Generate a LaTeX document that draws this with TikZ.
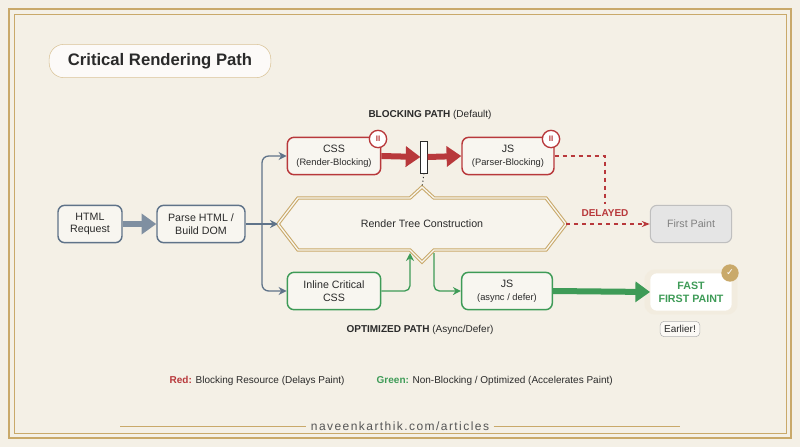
\documentclass[tikz,border=0pt]{standalone}
\usepackage{fontspec}
\setmainfont{Liberation Sans}
\newfontfamily\symf{DejaVu Sans}
\usetikzlibrary{arrows.meta,calc}
\definecolor{bg}{HTML}{F4F0E6}
\definecolor{gold}{HTML}{C9A96A}
\definecolor{blu}{HTML}{5F7389}
\definecolor{rd}{HTML}{B8383B}
\definecolor{gr}{HTML}{3E9B57}
\definecolor{txt}{HTML}{2A2A2A}
\tikzset{
 box/.style={draw=#1,line width=1.1pt,rounded corners=5pt,fill=white!40!bg,align=center,font=\fontsize{8}{9.5}\selectfont,text=txt},
 conn/.style={draw=#1,line width=1pt,-{Stealth[length=6pt,width=6pt]}},
 fat/.style={draw=#1,line width=4.5pt,-{Triangle[length=11pt,width=15pt]}},
 sm/.style={font=\fontsize{7.5}{9}\selectfont}
}
\begin{document}
\begin{tikzpicture}[x=0.75pt,y=-0.75pt]
\fill[bg] (0,0) rectangle (800,447);
\useasboundingbox (0,0) rectangle (800,447);
\draw[gold,line width=0.8pt] (9,9) rectangle (791,438);
\draw[gold,line width=0.5pt] (14,14) rectangle (786,433);
% title
\node[draw=gold!70,fill=white!70!bg,rounded corners=11pt,minimum height=25,inner xsep=14pt,font=\fontsize{12.5}{14}\selectfont\bfseries,text=txt] (title) at (160,61) {Critical Rendering Path};
\node[font=\fontsize{7.5}{9}\selectfont,text=txt] (bh) at (430,115) {\textbf{BLOCKING PATH} (Default)};
% nodes
\node[box=blu,minimum width=48,minimum height=28] (html) at (90,224) {HTML\\Request};
\node[box=blu,minimum width=66,minimum height=28] (parse) at (201,224) {Parse HTML /\\Build DOM};
\node[box=rd,minimum width=70,minimum height=28] (css) at (334,156) {CSS\\{\fontsize{7}{8.5}\selectfont(Render-Blocking)}};
\node[box=rd,minimum width=69,minimum height=28] (js) at (508,156) {JS\\{\fontsize{7}{8.5}\selectfont(Parser-Blocking)}};
\node[draw=txt,fill=white,minimum width=5,minimum height=24,inner sep=0pt] (bar) at (424,157) {};
\node[box=gr,minimum width=70,minimum height=28] (inl) at (334,291) {Inline Critical\\CSS};
\node[box=gr,minimum width=68,minimum height=28] (jsa) at (507,291) {JS\\{\fontsize{7}{8.5}\selectfont(async / defer)}};
\node[draw=gray!50,fill=gray!20,rounded corners=5pt,line width=0.8pt,minimum width=61,minimum height=28,text=gray,font=\fontsize{8}{9.5}\selectfont] (fp) at (691,224) {First Paint};
\node[fill=gold!25,rounded corners=8pt,minimum width=70,minimum height=34,opacity=0.5] at (691,292) {};
\node[fill=white,rounded corners=5pt,minimum width=61,minimum height=28,align=center,text=gr,font=\fontsize{8}{9.5}\selectfont\bfseries] (ffp) at (691,292) {FAST\\FIRST PAINT};
\node[circle,fill=gold,minimum size=13,inner sep=0pt,text=white,font=\symf\fontsize{7}{7}\selectfont\bfseries] (chk) at (730,273) {✓};
\node[draw=gray!60,fill=white!60!bg,rounded corners=3pt,sm,text=txt,inner sep=3pt] (earl) at (680,329) {Earlier!};
% pause badges
\foreach \n/\x in {p1/378,p2/551}{
 \node[circle,draw=rd,fill=white,line width=1pt,minimum size=13,inner sep=0pt,text=rd,font=\fontsize{6}{6}\selectfont\bfseries] (\n) at (\x,139) {II};}
% hexagon
\draw[gold,line width=2.6pt,fill=white!30!bg] (278,224) -- (298,198) -- (410,198) -- (422,187) -- (434,198) -- (546,198) -- (566,224) -- (546,250) -- (434,250) -- (422,262) -- (410,250) -- (298,250) -- cycle;
\draw[white!40!bg,line width=1pt] (278,224) -- (298,198) -- (410,198) -- (422,187) -- (434,198) -- (546,198) -- (566,224) -- (546,250) -- (434,250) -- (422,262) -- (410,250) -- (298,250) -- cycle;
\coordinate (hl) at (278,224); \coordinate (hr) at (566,224);
\coordinate (ht) at (422,187); \coordinate (hbl) at (410,253); \coordinate (hbr) at (434,253);
\node[font=\fontsize{8}{9.5}\selectfont,text=txt] (rtc) at (422,224) {Render Tree Construction};
% connectors
\draw[fat=blu!80] (html) -- (parse);
\coordinate (sp) at (262,224);
\draw[blu,line width=1pt] (parse.east) -- (sp);
\draw[conn=blu,rounded corners=5pt] (sp) |- (css.west);
\draw[conn=blu,rounded corners=5pt] (sp) |- (inl.west);
\draw[conn=blu] (sp) -- (hl);
\draw[fat=rd] (css.east) -- (bar.west);
\draw[fat=rd] (bar.east) -- (js.west);
\draw[txt,dotted,line width=0.8pt] (bar.south) -- (ht);
\coordinate (dc) at (605,156);
\draw[rd,dashed,line width=1pt] (js.east) -- (dc) -- (605,204);
\draw[rd,dashed,line width=1pt,-{Stealth[length=6pt]}] (hr) -- (fp.west);
\node[text=rd,font=\fontsize{7.5}{9}\selectfont\bfseries] (del) at (605,213) {DELAYED};
\draw[conn=gr,rounded corners=4pt] (inl.east) -| (hbl);
\draw[conn=gr,rounded corners=4pt] (hbr) |- (jsa.west);
\draw[fat=gr] (jsa.east) -- (ffp.west);
\node[font=\fontsize{7.5}{9}\selectfont,text=txt] (oh) at (420,330) {\textbf{OPTIMIZED PATH} (Async/Defer)};
\node[sm,text=txt,anchor=west] (lg1) at (165,381) {\textcolor{rd}{\textbf{Red:}} Blocking Resource (Delays Paint)};
\node[sm,text=txt,anchor=west] (lg2) at (372,381) {\textcolor{gr}{\textbf{Green:}} Non-Blocking / Optimized (Accelerates Paint)};
\node[font=\fontsize{9}{11}\selectfont,text=txt!80] (foot) at (400,426) {\addfontfeature{LetterSpace=12}naveenkarthik.com/articles};
\draw[gold,line width=0.6pt] (120,426) -- (foot.west);
\draw[gold,line width=0.6pt] (foot.east) -- (680,426);
\end{tikzpicture}
\end{document}
